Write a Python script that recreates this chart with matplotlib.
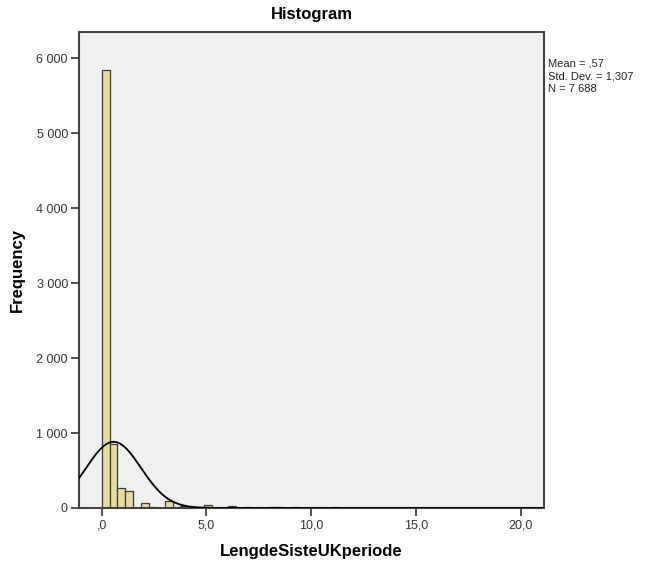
import numpy as np
import matplotlib
matplotlib.use("Agg")
import matplotlib.pyplot as plt

plt.rcParams['font.family'] = ['Liberation Sans', 'DejaVu Sans']

# histogram data (bin width)
bin_width = 0.376
counts = [5834, 860, 262, 230, 0, 65, 8, 5, 97, 10, 25, 15, 8, 35, 5, 5, 22, 3, 20, 5, 3, 10,
          8, 6, 7, 5, 6, 4, 5, 8, 4, 3, 5, 4, 3, 4, 6, 3, 2, 3, 4, 2, 3, 5, 2, 2, 3, 2, 3, 2,
          2, 1, 2, 3, 2]

# summary stats shown in the box
mean_val = 0.57
std_val = 1.307
n_val = 7688

x_ticks = [0, 5, 10, 15, 20]
x_ticklabels = [',0', '5,0', '10,0', '15,0', '20,0']
y_ticks = [0, 1000, 2000, 3000, 4000, 5000, 6000]
y_ticklabels = ['0', '1 000', '2 000', '3 000', '4 000', '5 000', '6 000']

edges = np.arange(len(counts)) * bin_width

fig = plt.figure(figsize=(6.51, 5.65), dpi=100)
ax = fig.add_axes([79 / 651, 1 - 508 / 565, (544 - 79) / 651, (508 - 32) / 565])
ax.set_facecolor('#F0F0F0')

ax.bar(edges, counts, width=bin_width, align='edge', color='#E6DC9E',
       edgecolor='#3a3a3a', linewidth=0.9, zorder=2)

# normal curve
xs = np.linspace(-1.08, 21.1, 400)
ys = n_val * bin_width / (std_val * np.sqrt(2 * np.pi)) * np.exp(-0.5 * ((xs - mean_val) / std_val) ** 2)
ax.plot(xs, ys, color='black', linewidth=1.3, zorder=3)

ax.set_xlim(-1.08, 21.1)
ax.set_ylim(0, 6347)
ax.set_xticks(x_ticks)
ax.set_xticklabels(x_ticklabels)
ax.set_yticks(y_ticks)
ax.set_yticklabels(y_ticklabels)
ax.tick_params(direction='out', length=6, width=1.2, color='#333333',
               labelsize=9, labelcolor='#333333', pad=2)

for s in ax.spines.values():
    s.set_color('#444444')
    s.set_linewidth(1.5)

ax.set_title('Histogram', fontsize=12, fontweight='bold', pad=9)
ax.set_xlabel('LengdeSisteUKperiode', fontsize=12, fontweight='bold', labelpad=9)
ax.set_ylabel('Frequency', fontsize=12, fontweight='bold', labelpad=8)

stats_txt = f'Mean = ,{int(round(mean_val * 100)):02d}\nStd. Dev. = 1,{int(round(std_val * 1000)) - 1000:03d}\nN = 7 688'
fig.text(548 / 651, 1 - 58 / 565, stats_txt, fontsize=8, va='top', ha='left',
         linespacing=1.4, color='#222222')

fig.savefig('out.png', dpi=100)
